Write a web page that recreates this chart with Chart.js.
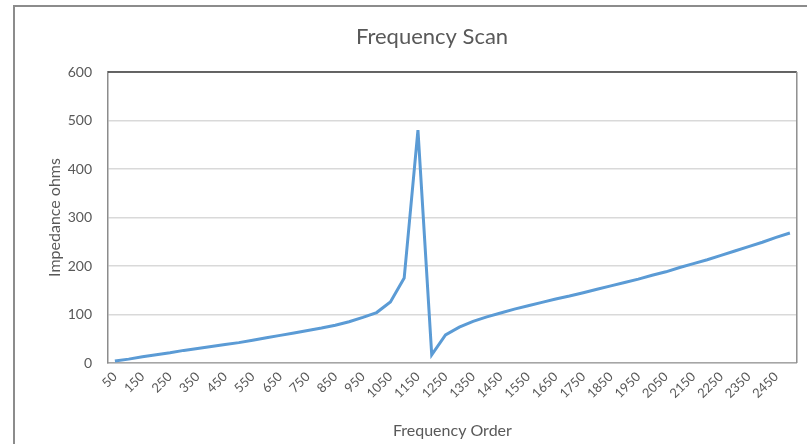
<!DOCTYPE html>
<html>
<head>
<meta charset="utf-8">
<script src="https://cdn.jsdelivr.net/npm/chart.js@4"></script>
<style>
  html, body { margin: 0; padding: 0; background: #fff; }
  #wrap { width: 807px; height: 444px; }
</style>
</head>
<body>
<div id="wrap"><canvas id="scanChart" width="807" height="444"></canvas></div>
<script>
// frequency orders (every 50)
const frequencyOrder = [
  50, 100, 150, 200, 250, 300, 350, 400, 450, 500,
  550, 600, 650, 700, 750, 800, 850, 900, 950, 1000,
  1050, 1100, 1150, 1200, 1250, 1300, 1350, 1400, 1450, 1500,
  1550, 1600, 1650, 1700, 1750, 1800, 1850, 1900, 1950, 2000,
  2050, 2100, 2150, 2200, 2250, 2300, 2350, 2400, 2450, 2500
];

// impedance in ohms
const impedance = [
  4, 8, 13, 17, 21, 26, 30, 34, 38, 42,
  47, 52, 57, 62, 67, 72, 78, 85, 94, 104,
  126, 175, 480, 17, 58, 74, 86, 95, 103, 111,
  118, 125, 132, 138, 145, 152, 159, 166, 173, 181,
  188, 197, 205, 213, 222, 231, 240, 249, 259, 268
];

const yTicks = [0, 100, 200, 300, 400, 500, 600];

const FONT = "Lato, 'Open Sans', sans-serif";
const TEXT = "#595959";

// outer chart border, plot box border and title
const framePlugin = {
  id: "frame",
  beforeDraw(chart) {
    const ctx = chart.ctx;
    ctx.save();
    ctx.strokeStyle = "#8c8c8c";
    ctx.lineWidth = 2;
    ctx.beginPath();
    ctx.moveTo(14, 444);
    ctx.lineTo(14, 6);
    ctx.lineTo(807, 6);
    ctx.stroke();
    ctx.restore();
  },
  afterDraw(chart) {
    const ctx = chart.ctx;
    const a = chart.chartArea;
    ctx.save();
    ctx.lineWidth = 1.5;
    ctx.strokeStyle = "#3a3a3a";
    ctx.beginPath();
    ctx.moveTo(a.left, a.top);
    ctx.lineTo(a.right, a.top);
    ctx.stroke();
    ctx.strokeStyle = "#8f8f8f";
    ctx.beginPath();
    ctx.moveTo(a.right, a.top);
    ctx.lineTo(a.right, a.bottom);
    ctx.stroke();
    ctx.fillStyle = TEXT;
    ctx.font = "22px " + FONT;
    ctx.textAlign = "center";
    ctx.textBaseline = "middle";
    ctx.fillText("Frequency Scan", 432, 37);
    ctx.restore();
  }
};

new Chart(document.getElementById("scanChart"), {
  type: "line",
  data: {
    labels: frequencyOrder,
    datasets: [{
      label: "Impedance",
      data: impedance,
      borderColor: "#5b9bd5",
      borderWidth: 3,
      pointRadius: 0,
      tension: 0,
      fill: false
    }]
  },
  options: {
    responsive: false,
    animation: false,
    layout: { padding: { left: 0, right: 7, top: 72, bottom: 0 } },
    plugins: {
      legend: { display: false },
      title: { display: false },
      tooltip: { enabled: false }
    },
    scales: {
      x: {
        type: "category",
        offset: true,
        afterFit: s => { s.height = 81; },
        grid: { display: false, drawTicks: false },
        border: { display: true, color: "#a6a6a6", width: 1.5 },
        ticks: {
          autoSkip: false,
          minRotation: 45,
          maxRotation: 45,
          padding: 6,
          color: TEXT,
          font: { family: FONT, size: 13 },
          callback: (v, i) => (i % 2 === 0 ? frequencyOrder[i] : "")
        },
        title: {
          display: true,
          text: "Frequency Order",
          color: TEXT,
          font: { family: FONT, size: 16 },
          padding: { top: 0, bottom: 4 }
        }
      },
      y: {
        min: yTicks[0],
        max: yTicks[yTicks.length - 1],
        afterFit: s => { s.width = 108; },
        afterBuildTicks: s => { s.ticks = yTicks.map(v => ({ value: v })); },
        grid: { color: "#d9d9d9", lineWidth: 1.5, drawTicks: false },
        border: { display: true, color: "#8c8c8c", width: 1.5 },
        ticks: {
          padding: 16,
          color: TEXT,
          font: { family: FONT, size: 14 }
        },
        title: {
          display: true,
          text: "Impedance ohms",
          color: TEXT,
          font: { family: FONT, size: 16 },
          padding: { top: 45, bottom: 0 }
        }
      }
    }
  },
  plugins: [framePlugin]
});
</script>
</body>
</html>
